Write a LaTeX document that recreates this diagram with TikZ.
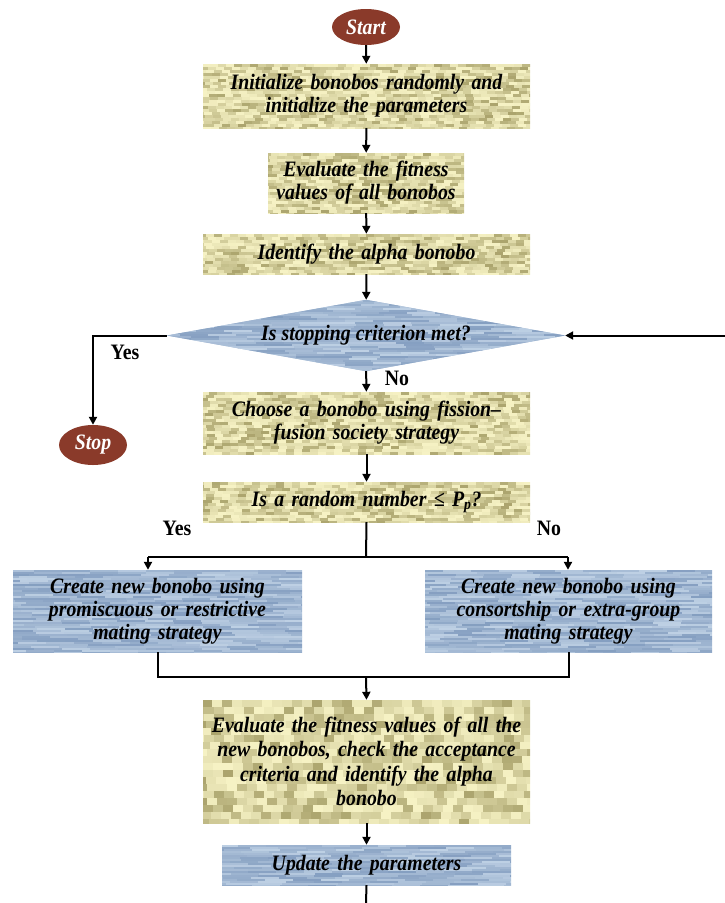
\documentclass[tikz,border=0pt]{standalone}
\usepackage{fontspec}
\setmainfont{Liberation Serif}
\newfontfamily\condserif{Liberation Serif}[FakeStretch=0.9]
\usetikzlibrary{shapes.geometric,arrows.meta,calc}
\pgfdeclarelayer{bg}\pgfsetlayers{bg,main}
\definecolor{tanA}{RGB}{170,163,108}
\definecolor{tanB}{RGB}{246,242,196}
\definecolor{bluA}{RGB}{132,158,192}
\definecolor{bluB}{RGB}{190,208,228}
\definecolor{brn}{RGB}{138,58,42}
\pgfmathsetseed{7}
% #1 x0, #2 y0, #3 w, #4 h, #5 cell w, #6 cell h, #7 dark, #8 light, #9 exponent
\newcommand{\texfill}[9]{%
  \begin{scope}
    \clip (#1,#2) rectangle ++(#3,#4);
    \fill[#7!40!#8] (#1,#2) rectangle ++(#3,#4);
    \pgfmathtruncatemacro\tnx{#3/#5+1}%
    \pgfmathtruncatemacro\tny{#4/#6}%
    \foreach \tj in {0,...,\tny}{%
      \pgfmathsetmacro\toff{rnd*#5}%
      \foreach \ti in {-1,...,\tnx}{%
        \pgfmathtruncatemacro\tmix{(rnd^#9)*100}%
        \fill[#7!\tmix!#8] ({#1+\ti*#5+\toff},{#2+\tj*#6}) rectangle ++(#5,#6);}}
  \end{scope}}
\begin{document}
\begin{tikzpicture}[x=1pt,y=-1pt,
  txt/.style={font=\condserif\fontsize{22}{23}\selectfont\bfseries\itshape, align=center, inner sep=0pt},
  tbox/.style={txt, rectangle},
  ell/.style={ellipse, fill=brn, text=white, font=\condserif\fontsize{22}{23}\selectfont\bfseries\itshape,
    minimum width=68pt, minimum height=36pt, inner sep=0pt},
  lbl/.style={font=\condserif\fontsize{22}{23}\selectfont\bfseries, inner sep=0pt},
  ln/.style={line width=2pt},
  arr/.style={line width=2pt, -{Triangle[length=8pt,width=8pt]}}]
\useasboundingbox (0,0) rectangle (725,903);

\node[ell] (start) at (366,27) {Start};
\node[tbox, minimum width=327pt, minimum height=64pt, text width=322pt] (init) at (366.5,96)
  {Initialize bonobos randomly and\\initialize the parameters};
\node[tbox, minimum width=196pt, minimum height=60pt, text width=194pt] (fit) at (366,183)
  {Evaluate the fitness\\values of all bonobos};
\node[tbox, minimum width=327pt, minimum height=40pt, text width=322pt] (alpha) at (366.5,254)
  {Identify the alpha bonobo};
\node[diamond, txt, minimum width=398pt, minimum height=71pt, aspect=5.6] (dec) at (366,335.5)
  {Is stopping criterion met?};
\node[ell, minimum height=40pt] (stop) at (93,445) {Stop};
\node[tbox, minimum width=327pt, minimum height=62pt, text width=322pt] (choose) at (366.5,423)
  {Choose a bonobo using fission–\\fusion society strategy};
\node[tbox, minimum width=327pt, minimum height=40pt, text width=322pt] (rand) at (366.5,502)
  {Is a random number ≤ \textit{P}\textsubscript{\textit{p}}?};
\node[tbox, minimum width=289pt, minimum height=82pt, text width=286pt] (left) at (157.5,611)
  {Create new bonobo using\\promiscuous or restrictive\\mating strategy};
\node[tbox, minimum width=287pt, minimum height=82pt, text width=284pt] (right) at (568.5,611)
  {Create new bonobo using\\consortship or extra-group\\mating strategy};
\node[tbox, minimum width=327pt, minimum height=123pt, text width=322pt, font=\condserif\fontsize{22}{24.5}\selectfont\bfseries\itshape] (eall) at (366.5,761.5)
  {Evaluate the fitness values of all the\\new bonobos, check the acceptance\\criteria and identify the alpha\\bonobo};
\node[tbox, minimum width=289pt, minimum height=40pt, text width=286pt] (upd) at (366.5,865)
  {Update the parameters};

\node[lbl] (yes1) at (125,352) {Yes};
\node[lbl] (no1) at (397,378) {No};
\node[lbl] (yes2) at (177,528) {Yes};
\node[lbl] (no2) at (549,528) {No};

\begin{pgfonlayer}{bg}
  \texfill{203}{64}{327}{64}{8}{3}{tanA}{tanB}{1.6}
  \texfill{268}{153}{196}{60}{8}{3}{tanA}{tanB}{1.6}
  \texfill{203}{234}{327}{40}{8}{3}{tanA}{tanB}{1.6}
  \texfill{203}{392}{327}{62}{8}{3}{tanA}{tanB}{1.6}
  \texfill{203}{482}{327}{40}{8}{3}{tanA}{tanB}{1.6}
  \texfill{203}{700}{327}{123}{10}{7}{tanA}{tanB}{1.6}
  \texfill{13}{570}{289}{82}{28}{2}{bluA}{bluB}{1}
  \texfill{425}{570}{287}{82}{28}{2}{bluA}{bluB}{1}
  \texfill{222}{845}{289}{40}{28}{2}{bluA}{bluB}{1}
  \begin{scope}
    \clip (dec.west) -- (dec.north) -- (dec.east) -- (dec.south) -- cycle;
    \texfill{167}{300}{398}{72}{28}{2}{bluA}{bluB}{1}
  \end{scope}
\end{pgfonlayer}

\draw[arr] (start) -- (init);
\draw[arr] (init) -- (fit);
\draw[arr] (fit) -- (alpha);
\draw[arr] (alpha) -- (dec);
\draw[arr] (dec) -- (choose);
\draw[arr] (choose) -- (rand);
\draw[arr] (dec.west) -| (stop.north);
\coordinate (rin) at (725,335.5);
\draw[arr] (rin) -- (dec.east);
\coordinate (split) at (366,557);
\coordinate (sl) at (148,557);
\coordinate (sr) at (568,557);
\draw[ln] (rand.south) -- (split);
\draw[ln] (sl) -- (sr);
\draw[arr] (sl) -- (sl |- left.north);
\draw[arr] (sr) -- (sr |- right.north);
\coordinate (join) at (366,677);
\draw[ln] (left.south) |- (join) -| (right.south);
\draw[arr] (join) -- (eall.north);
\draw[arr] (eall) -- (upd);
\coordinate (bend) at (366,903);
\draw[ln] (upd.south) -- (bend);
\end{tikzpicture}
\end{document}
